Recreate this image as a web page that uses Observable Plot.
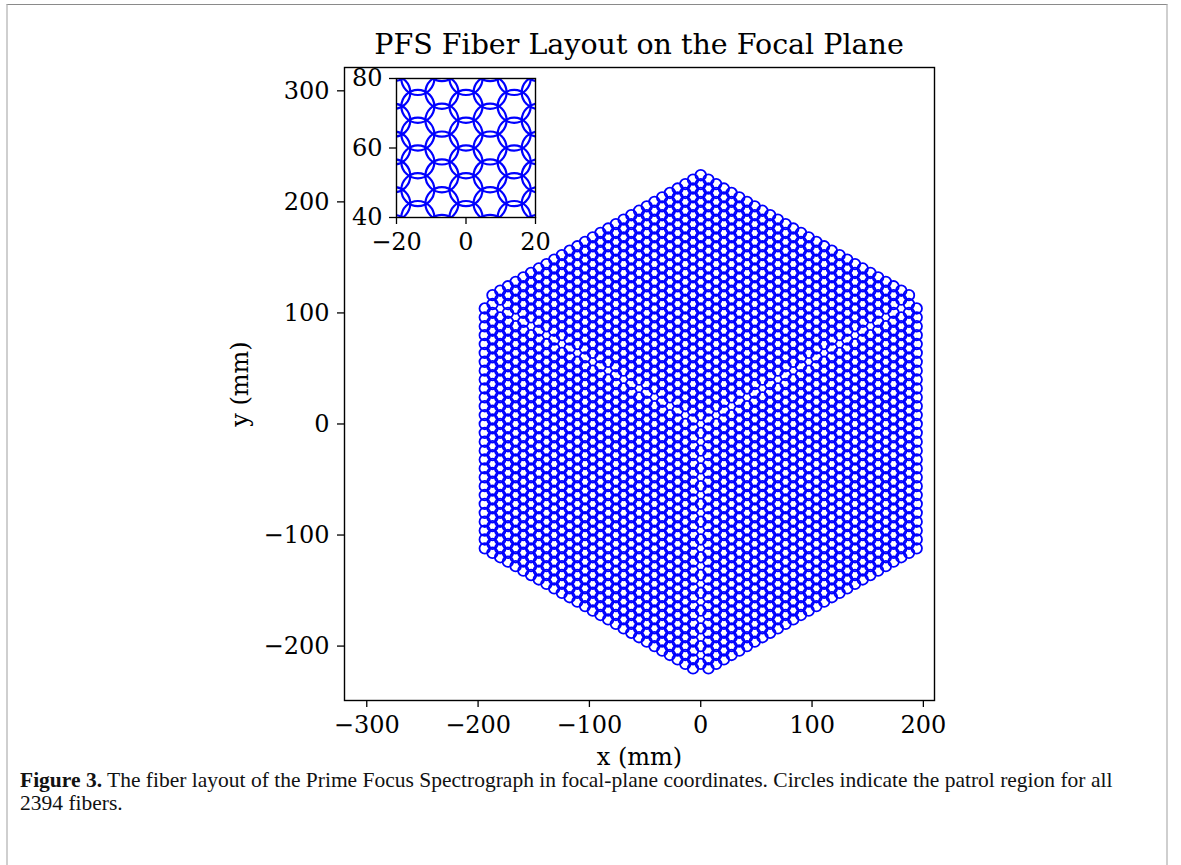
<!DOCTYPE html>
<html>
<head>
<meta charset="utf-8">
<script src="https://cdn.jsdelivr.net/npm/d3@7"></script>
<script src="https://cdn.jsdelivr.net/npm/@observablehq/plot@0.6"></script>
<style>
  html, body { margin: 0; padding: 0; background: white; }
  #page { position: relative; width: 1181px; height: 865px; overflow: hidden; background: white; }
  #border { position: absolute; left: 6px; top: 4px; width: 1158px; height: 900px;
            border-top: 1px solid #8a8a8a; border-left: 2px solid #cfcfcf; border-right: 2px solid #cfcfcf; }
  #title { position: absolute; left: 0; width: 1278px; top: 27px; text-align: center;
           font-family: "DejaVu Serif"; font-size: 28.5px; line-height: 36px; color: #000; }
  #caption { position: absolute; left: 20px; top: 769px; width: 1140px; white-space: nowrap;
             font-family: "Liberation Serif"; font-size: 21.5px; line-height: 23px; color: #111; }
  .abs { position: absolute; }
</style>
</head>
<body>
<div id="page">
  <div id="border"></div>
  <div id="main" class="abs" style="left:0;top:0;"></div>
  <div id="inset" class="abs"></div>
  <div id="title">PFS Fiber Layout on the Focal Plane</div>
  <div id="caption"><b>Figure 3.</b> The fiber layout of the Prime Focus Spectrograph in focal-plane coordinates. Circles indicate the patrol region for all<br>2394 fibers.</div>
</div>
<script>
// ---- Instrument layout parameters ----
const sectorRotations = [0, 120, 240];      // degrees; three identical rhombic sectors
const pitch = 8;                             // mm between neighbouring fibers
const linesPerSector = 28;                   // lattice lines per sector
const fibersPerLine = 28;                    // fibers per lattice line
const gapRaySlots = [1, 3, 5, 7, 9, 11, 13, 15, 17, 19, 21, 23, 25, 27]; // occupied slots along each sector boundary
const patrolRadius = 4.75;                   // mm

// ---- Axes ----
const xDomain = [-320, 210];
const yDomain = [-249, 321];
const xTicks = [-300, -200, -100, 0, 100, 200];
const yTicks = [-200, -100, 0, 100, 200, 300];
const insetXDomain = [-20, 20];
const insetYDomain = [40, 80];
const insetXTicks = [-20, 0, 20];
const insetYTicks = [40, 60, 80];

// ---- Build fiber table from the lattice description ----
const deg = Math.PI / 180;
const e150 = [Math.cos(150 * deg), Math.sin(150 * deg)];
const e30 = [Math.cos(30 * deg), Math.sin(30 * deg)];
function rot([x, y], a) {
  const c = Math.cos(a * deg), s = Math.sin(a * deg);
  return [x * c - y * s, x * s + y * c];
}
const fibers = [];
for (const a of sectorRotations) {
  for (let i = 0; i < linesPerSector; i++) {
    for (let j = 0; j < fibersPerLine; j++) {
      const p = [pitch * (i * e150[0] + j * e30[0]), pitch + pitch * (i * e150[1] + j * e30[1])];
      const [x, y] = rot(p, a);
      fibers.push({x, y});
    }
  }
  for (const k of gapRaySlots) {
    const [x, y] = rot([pitch * k * e150[0], pitch * k * e150[1]], a);
    fibers.push({x, y});
  }
}

const fmt = d => (d < 0 ? "\u2212" + Math.abs(d) : String(d));

// ---- Main plot ----
const mL = 344, mR = 247, mT = 67, mB = 85;
const W = 1181, H = 700 + mB;
const pxPerMM = (W - mL - mR) / (xDomain[1] - xDomain[0]);

const main = Plot.plot({
  width: W, height: H,
  marginLeft: mL, marginRight: mR, marginTop: mT, marginBottom: mB,
  x: {domain: xDomain},
  y: {domain: yDomain},
  style: {fontFamily: "DejaVu Serif", fontSize: "24px", background: "transparent", color: "black"},
  marks: [
    Plot.dot(fibers, {x: "x", y: "y", r: patrolRadius * pxPerMM, stroke: "#0000ff", strokeWidth: 1.8, fill: "none"}),
    Plot.frame({stroke: "black", strokeWidth: 1.4}),
    Plot.axisX({ticks: xTicks, tickFormat: fmt, tickSize: 7, tickPadding: 8, strokeWidth: 1.3,
                label: "x (mm)", labelAnchor: "center", labelArrow: false, labelOffset: 64}),
    Plot.axisY({ticks: yTicks, tickFormat: fmt, tickSize: 7, tickPadding: 8, strokeWidth: 1.3,
                label: "y (mm)", labelAnchor: "center", labelArrow: false, labelOffset: 114})
  ]
});
document.getElementById("main").appendChild(main);

// ---- Inset ----
const iL = 60, iR = 12, iT = 10, iB = 45, iSize = 139;
const insetPx = iSize / (insetXDomain[1] - insetXDomain[0]);
const inset = Plot.plot({
  width: iL + iSize + iR, height: iT + iSize + iB,
  marginLeft: iL, marginRight: iR, marginTop: iT, marginBottom: iB,
  x: {domain: insetXDomain},
  y: {domain: insetYDomain},
  style: {fontFamily: "DejaVu Serif", fontSize: "24px", background: "transparent", color: "black", overflow: "visible"},
  marks: [
    Plot.frame({fill: "white"}),
    Plot.dot(fibers, {x: "x", y: "y", r: patrolRadius * insetPx, stroke: "#0000ff", strokeWidth: 2.2, fill: "none", clip: true}),
    Plot.frame({stroke: "black", strokeWidth: 1.4}),
    Plot.axisX({ticks: insetXTicks, tickFormat: fmt, tickSize: 7, tickPadding: 8, strokeWidth: 1.3, label: null}),
    Plot.axisY({ticks: insetYTicks, tickFormat: fmt, tickSize: 7, tickPadding: 7, strokeWidth: 1.3, label: null})
  ]
});
const insetDiv = document.getElementById("inset");
insetDiv.style.left = (396 - iL) + "px";
insetDiv.style.top = (78 - iT) + "px";
insetDiv.appendChild(inset);
</script>
</body>
</html>
